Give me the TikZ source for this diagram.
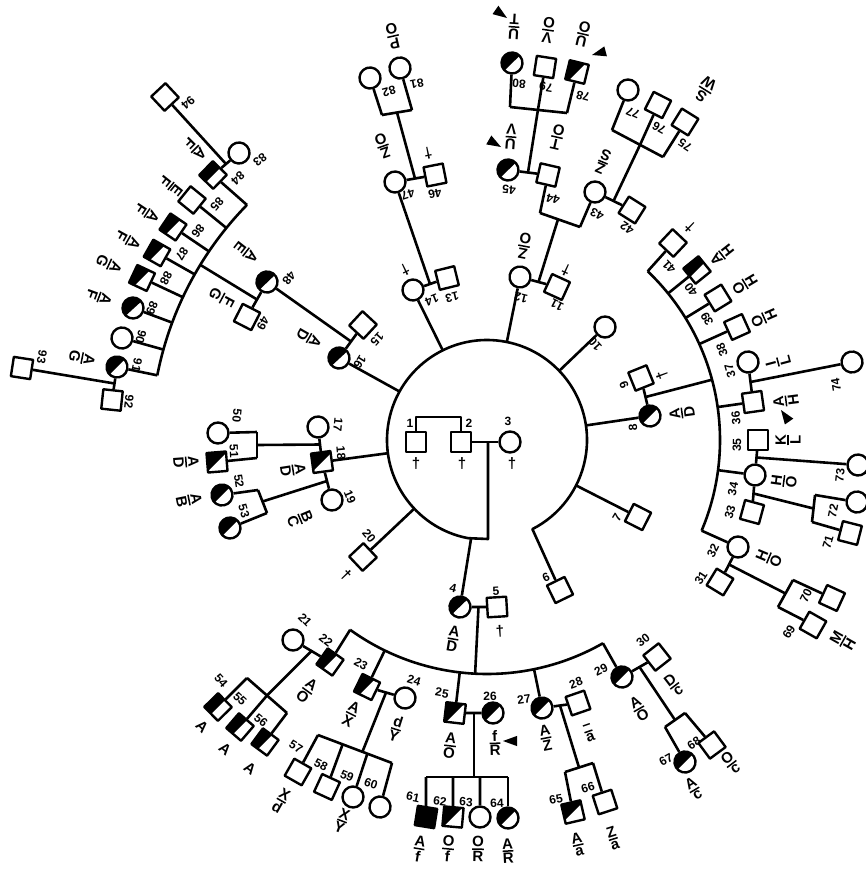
\documentclass[tikz,border=0pt]{standalone}
\usepackage{amsmath}
\usepackage{fontspec}
\setmainfont{Liberation Sans}
\usetikzlibrary{calc}
\newcommand\pfrac[2]{$\genfrac{}{}{1.5pt}{1}{\mbox{#1}}{\mbox{#2}}$}
\newcommand\rotang[2]{atan2(440-(#2),(#1)-487)+90}
\newcommand\pSq[4]{\node[sqr,#4,rotate={\rotang{#2}{#3}}] (#1) at (#2,#3) {};}
\newcommand\pCi[4]{\node[cir,#4,rotate={\rotang{#2}{#3}}] (#1) at (#2,#3) {};}
\newcommand\pNum[3]{\node[num,rotate={\rotang{#2}{#3}}] (t#1) at (#2,#3) {#1};}
\newcommand\pFr[5]{\node[frc,rotate={\rotang{#2}{#3}}] (f#1) at (#2,#3) {\pfrac{#4}{#5}};}
\newcommand\pTxt[4]{\node[frc,rotate={\rotang{#2}{#3}}] (f#1) at (#2,#3) {#4};}
\newcommand\pDg[3]{\node[dg,rotate={\rotang{#2}{#3}}] (d#1) at (#2,#3) {\textdagger};}
\begin{document}
\begin{tikzpicture}[x=1pt,y=-1pt,line width=2.6pt,line join=round,
  sqr/.style={draw,rectangle,minimum size=19.5pt,inner sep=0pt,line width=2.4pt},
  cir/.style={draw,circle,minimum size=21pt,inner sep=0pt,line width=2.4pt},
  aff/.style={path picture={\fill[black] (path picture bounding box.north west) -- (path picture bounding box.north east) -- (path picture bounding box.south west) -- cycle;}},
  full/.style={fill=black},
  num/.style={inner sep=0pt,font=\fontsize{12}{12}\selectfont\bfseries},
  frc/.style={inner sep=0pt,font=\fontsize{15}{15}\selectfont\bfseries},
  dg/.style={inner sep=0pt,font=\fontsize{15}{15}\selectfont\bfseries}]
\useasboundingbox (0,0) rectangle (865,873);
\coordinate (C) at (487,440);

% ---------- centre ----------
\node[sqr] (n1) at (416,442) {};
\node[sqr] (n2) at (461,442) {};
\node[cir] (n3) at (510,442) {};
\node[num] (t1) at (410,423) {1};
\node[num] (t2) at (469,423) {2};
\node[num] (t3) at (508,421) {3};
\node[dg] (d1) at (416,464) {\textdagger};
\node[dg] (d2) at (462,464) {\textdagger};
\node[dg] (d3) at (512,464) {\textdagger};
\draw (n1.north) -- ++(0,-14) -| (n2.north);
\draw (n2) -- (n3);
\coordinate (m23) at (488,442);

% ---------- generation II ----------
\pCi{n4}{460}{607}{aff}
\pSq{n5}{497}{607}{}
\pSq{n6}{560}{590}{}
\pSq{n7}{638}{517}{}
\pCi{n8}{650}{416}{aff}
\pSq{n9}{641}{378}{}
\pCi{n10}{605}{327}{}
\pSq{n11}{557}{287}{}
\pCi{n12}{520}{277}{}
\pSq{n13}{447}{278}{}
\pCi{n14}{413}{290}{}
\pSq{n15}{363}{325}{}
\pCi{n16}{339}{358}{aff}
\pCi{n17}{318}{427}{}
\pSq{n18}{322}{462}{aff}
\pCi{n19}{332}{500}{}
\pSq{n20}{363}{557}{}

\draw (m23) -- (488,539) -- ($(C)+(101:100)$) arc[start angle=101,end angle=423,radius=100] -- (n6);
\foreach \k in {4,7,8,10,12,14,16,18,20} \draw ($(C)!100pt!(n\k)$) -- (n\k);
\draw (n4) -- (n5); \draw (n8) -- (n9); \draw (n12) -- (n11); \draw (n14) -- (n13);
\draw (n16) -- (n15); \draw (n17) -- (n18); \draw (n18) -- (n19);

% ---------- generation III ----------
\pCi{n21}{293}{640}{}
\pSq{n22}{330}{662}{aff}
\pSq{n23}{367}{687}{aff}
\pCi{n24}{405}{698}{}
\pSq{n25}{455}{713}{aff}
\pCi{n26}{493}{713}{aff}
\pCi{n27}{542}{708}{aff}
\pSq{n28}{578}{703}{}
\pCi{n29}{622}{677}{aff}
\pSq{n30}{657}{657}{}
\pSq{n41}{673}{243}{}
\pSq{n40}{697}{270}{aff}
\pSq{n39}{718}{298}{}
\pSq{n38}{737}{327}{}
\pCi{n37}{748}{362}{}
\pSq{n36}{753}{402}{}
\pSq{n35}{758}{440}{}
\pCi{n34}{755}{475}{}
\pSq{n33}{752}{512}{}
\pCi{n32}{738}{547}{}
\pSq{n31}{720}{582}{}
\pCi{n48}{267}{282}{aff}
\pSq{n49}{247}{317}{}
\pCi{n47}{395}{182}{}
\pSq{n46}{435}{175}{}
\pCi{n43}{595}{192}{}
\pSq{n42}{632}{210}{}
\pSq{n44}{548}{175}{}
\pCi{n45}{508}{170}{aff}
\pCi{n50}{218}{433}{}
\pSq{n51}{217}{462}{aff}
\pCi{n52}{222}{495}{aff}
\pCi{n53}{230}{528}{aff}

% ---------- generation IV ----------
\pSq{n54}{218}{707}{aff}
\pSq{n55}{240}{727}{aff}
\pSq{n56}{265}{742}{aff}
\pSq{n57}{298}{772}{}
\pSq{n58}{327}{787}{}
\pCi{n59}{353}{797}{}
\pCi{n60}{380}{807}{}
\pSq{n61}{426}{817}{full}
\pSq{n62}{453}{817}{aff}
\pCi{n63}{480}{817}{}
\pCi{n64}{508}{818}{aff}
\pSq{n65}{573}{812}{aff}
\pSq{n66}{605}{802}{}
\pCi{n67}{685}{762}{aff}
\pSq{n68}{712}{745}{}
\pSq{n69}{813}{625}{}
\pSq{n70}{832}{598}{}
\pSq{n71}{850}{533}{}
\pCi{n72}{857}{502}{}
\pCi{n73}{858}{465}{}
\pCi{n74}{852}{362}{}
\pSq{n75}{685}{122}{}
\pSq{n76}{658}{105}{}
\pCi{n77}{628}{90}{}
\pSq{n78}{577}{72}{aff}
\pSq{n79}{545}{67}{}
\pCi{n80}{512}{63}{aff}
\pCi{n81}{400}{68}{}
\pCi{n82}{370}{78}{}
\pCi{n83}{239}{153}{}
\pSq{n84}{213}{175}{aff}
\pSq{n85}{192}{200}{}
\pSq{n86}{173}{227}{aff}
\pSq{n87}{157}{253}{aff}
\pSq{n88}{142}{278}{aff}
\pCi{n89}{133}{308}{aff}
\pCi{n90}{122}{338}{}
\pCi{n91}{117}{367}{aff}
\pSq{n92}{112}{400}{}
\pSq{n93}{22}{368}{}
\pSq{n94}{165}{97}{}

% ---------- bottom arc (children of 4 and 5) ----------
\draw ($(C)+(60.3:234)$) coordinate (bR) arc[start angle=60.3,end angle=125.8,radius=234] coordinate (bL);
\coordinate (m45) at ($(n4)!.5!(n5)$);
\draw (m45) -- ($(C)!234pt!(m45)$);
\draw (bL) -- (n22); \draw (bR) -- (n29);
\foreach \k in {23,25,27} \draw ($(C)!234pt!(n\k)$) -- (n\k);
\draw (n21) -- (n22); \draw (n23) -- (n24); \draw (n25) -- (n26); \draw (n27) -- (n28); \draw (n29) -- (n30);

\coordinate (k54) at (247,678); \coordinate (k56) at (287,713); \coordinate (k55) at ($(k54)!.5!(k56)$);
\draw ($(n21)!.5!(n22)$) -- (k55); \draw (k54) -- (k56);
\draw (k54) -- (n54); \draw (k55) -- (n55); \draw (k56) -- (n56);

\coordinate (k57) at (318,735); \coordinate (k60) at (392,763);
\coordinate (k58) at ($(k57)!.333!(k60)$); \coordinate (k59) at ($(k57)!.667!(k60)$);
\draw ($(n23)!.5!(n24)$) -- ($(k57)!.6!(k60)$); \draw (k57) -- (k60);
\draw (k57) -- (n57); \draw (k58) -- (n58); \draw (k59) -- (n59); \draw (k60) -- (n60);

\coordinate (m2526) at ($(n25)!.5!(n26)$);
\draw (m2526) -- (m2526 |- 0,777);
\draw (426,777) -- (508,777);
\foreach \k/\xx in {61/426,62/453,63/480,64/508} \draw (\xx,777) -- (n\k);

\coordinate (k65) at (565,772); \coordinate (k66) at (593,763);
\draw ($(n27)!.5!(n28)$) -- ($(k65)!.5!(k66)$); \draw (k65) -- (k66);
\draw (k65) -- (n65); \draw (k66) -- (n66);

\coordinate (k67) at (665,727); \coordinate (k68) at (685,713);
\draw ($(n29)!.5!(n30)$) -- ($(k67)!.5!(k68)$); \draw (k67) -- (k68);
\draw (k67) -- (n67); \draw (k68) -- (n68);

% ---------- right arc (children of 8 and 9) ----------
\draw ($(C)+(-46.4:233)$) coordinate (rT) arc[start angle=-46.4,end angle=22.9,radius=233] coordinate (rB);
\draw ($(n8)!.5!(n9)$) -- ($(C)+(-15:233)$);
\draw (rT) -- (n41); \draw (rB) -- (n32);
\foreach \k in {40,39,38,36,34} \draw ($(C)!233pt!(n\k)$) -- (n\k);
\draw (n37) -- (n36); \draw (n35) -- (n34); \draw (n34) -- (n33); \draw (n32) -- (n31);
\draw ($(n37)!.5!(n36)$) -- (n74);
\draw ($(n35)!.5!(n34)$) -- (n73);
\coordinate (k72) at (815,495); \coordinate (k71) at (812,522);
\draw ($(n34)!.5!(n33)$) -- ($(k72)!.5!(k71)$); \draw (k72) -- (k71);
\draw (k72) -- (n72); \draw (k71) -- (n71);
\coordinate (k70) at (793,580); \coordinate (k69) at (778,607);
\draw ($(n32)!.5!(n31)$) -- ($(k70)!.5!(k69)$); \draw (k70) -- (k69);
\draw (k70) -- (n70); \draw (k69) -- (n69);

% ---------- left arc (children of 48 and 49) ----------
\draw ($(C)+(191.1:336)$) coordinate (lB) arc[start angle=191.1,end angle=224.4,radius=336] coordinate (lT);
\draw ($(n16)!.5!(n15)$) -- (n48);
\draw (n48) -- (n49);
\coordinate (m4849) at ($(n48)!.5!(n49)$);
\draw (m4849) -- ($(C)!336pt!(m4849)$);
\draw (lT) -- (n84); \draw (lB) -- (n91);
\foreach \k in {85,86,87,88,89,90} \draw ($(C)!336pt!(n\k)$) -- (n\k);
\draw (n83) -- (n84); \draw ($(n83)!.5!(n84)$) -- (n94);
\draw (n91) -- (n92); \draw (n93) -- ($(n91)!.5!(n92)$);

% ---------- top ----------
\draw ($(n14)!.5!(n13)$) -- (n47);
\draw (n47) -- (n46);
\coordinate (k82) at (382,115); \coordinate (k81) at (412,110);
\draw ($(n47)!.5!(n46)$) -- ($(k82)!.5!(k81)$); \draw (k82) -- (k81);
\draw (k82) -- (n82); \draw (k81) -- (n81);

\coordinate (k44) at (540,213); \coordinate (k43) at (580,227);
\draw ($(n12)!.5!(n11)$) -- ($(k44)!.45!(k43)$); \draw (k44) -- (k43);
\draw (k44) -- (n44); \draw (k43) -- (n43);
\draw (n45) -- (n44);
\coordinate (k80) at (510,107); \coordinate (k78) at (567,113); \coordinate (k79) at ($(k80)!.49!(k78)$);
\draw ($(n45)!.5!(n44)$) -- (k79); \draw (k80) -- (k78);
\draw (k80) -- (n80); \draw (k79) -- (n79); \draw (k78) -- (n78);
\draw (n43) -- (n42);
\coordinate (k77) at (612,130); \coordinate (k75) at (663,157); \coordinate (k76) at ($(k77)!.55!(k75)$);
\draw ($(n43)!.5!(n42)$) -- (k76); \draw (k77) -- (k75);
\draw (k77) -- (n77); \draw (k76) -- (n76); \draw (k75) -- (n75);

% ---------- left middle (children of 17/18 and 18/19) ----------
\coordinate (k50) at (257,432); \coordinate (k51) at (257,458);
\draw ($(n17)!.5!(n18)$) -- ($(k50)!.5!(k51)$); \draw (k50) -- (k51);
\draw (k50) -- (n50); \draw (k51) -- (n51);
\coordinate (k52) at (258,490); \coordinate (k53) at (267,513);
\draw ($(n18)!.5!(n19)$) -- ($(k52)!.5!(k53)$); \draw (k52) -- (k53);
\draw (k52) -- (n52); \draw (k53) -- (n53);

% ---------- numbers ----------
\pNum{4}{453}{588} \pNum{5}{496}{591} \pNum{6}{546}{577} \pNum{7}{617}{518}
\pNum{8}{633}{428} \pNum{9}{624}{385} \pNum{10}{595}{344} \pNum{11}{557}{305}
\pNum{12}{521}{298} \pNum{13}{452}{297} \pNum{14}{432}{300} \pNum{15}{377}{339}
\pNum{16}{360}{362} \pNum{17}{338}{425} \pNum{18}{341}{453} \pNum{19}{350}{497}
\pNum{20}{369}{536}
\pNum{21}{305}{620} \pNum{22}{326}{640} \pNum{23}{361}{664} \pNum{24}{414}{680}
\pNum{25}{442}{693} \pNum{26}{490}{696} \pNum{27}{524}{699} \pNum{28}{576}{683}
\pNum{29}{601}{670} \pNum{30}{643}{640} \pNum{31}{701}{578} \pNum{32}{713}{551}
\pNum{33}{730}{512} \pNum{34}{733}{489} \pNum{35}{737}{445} \pNum{36}{736}{418}
\pNum{37}{730}{371} \pNum{38}{722}{350} \pNum{39}{707}{319} \pNum{40}{691}{290}
\pNum{41}{669}{267} \pNum{42}{627}{228} \pNum{43}{597}{214} \pNum{44}{553}{199}
\pNum{45}{509}{190} \pNum{46}{435}{194} \pNum{47}{408}{194} \pNum{48}{289}{278}
\pNum{49}{263}{323} \pNum{50}{237}{416} \pNum{51}{234}{451} \pNum{52}{239}{481}
\pNum{53}{244}{511} \pNum{54}{221}{681} \pNum{55}{240}{699} \pNum{56}{261}{720}
\pNum{57}{296}{747} \pNum{58}{321}{765} \pNum{59}{347}{776} \pNum{60}{371}{784}
\pNum{61}{413}{797} \pNum{62}{440}{801} \pNum{63}{466}{802} \pNum{64}{497}{803}
\pNum{65}{556}{799} \pNum{66}{588}{788} \pNum{67}{666}{760} \pNum{68}{694}{743}
\pNum{69}{789}{632} \pNum{70}{806}{596} \pNum{71}{828}{542} \pNum{72}{833}{511}
\pNum{73}{840}{475} \pNum{74}{836}{385} \pNum{75}{685}{145} \pNum{76}{659}{128}
\pNum{77}{633}{113} \pNum{78}{583}{96} \pNum{79}{546}{87} \pNum{80}{519}{84}
\pNum{81}{417}{84} \pNum{82}{389}{91} \pNum{83}{260}{160} \pNum{84}{238}{178}
\pNum{85}{217}{204} \pNum{86}{198}{231} \pNum{87}{182}{254} \pNum{88}{166}{278}
\pNum{89}{152}{308} \pNum{90}{141}{337} \pNum{91}{137}{365} \pNum{92}{129}{402}
\pNum{93}{42}{357} \pNum{94}{188}{103}

% ---------- daggers ----------
\pDg{5}{500}{631} \pDg{9}{662}{375} \pDg{11}{566}{270} \pDg{14}{405}{270}
\pDg{20}{346}{575} \pDg{41}{690}{227} \pDg{46}{428}{153}

% ---------- genotype labels ----------
\pFr{4}{453}{639}{A}{D} \pFr{8}{682}{413}{A}{D} \pFr{12}{524}{246}{Z}{O}
\pFr{16}{309}{338}{A}{D} \pFr{18}{293}{470}{A}{D} \pFr{19}{300}{519}{B}{C}
\pFr{22}{307}{691}{A}{O} \pFr{23}{351}{714}{A}{X} \pFr{24}{396}{729}{d}{Y}
\pFr{25}{450}{746}{A}{O} \pFr{26}{495}{743}{f}{R} \pFr{27}{546}{738}{A}{Z}
\pFr{28}{589}{733}{--}{a} \pFr{29}{639}{709}{A}{O} \pFr{30}{674}{685}{D}{c}
\pFr{32}{769}{558}{H}{O} \pFr{34}{784}{481}{H}{O} \pFr{35}{788}{440}{K}{L}
\pFr{36}{786}{401}{A}{H} \pFr{37}{778}{362}{I}{L} \pFr{38}{764}{318}{O}{H}
\pFr{39}{745}{284}{O}{H} \pFr{40}{722}{255}{A}{H} \pFr{43}{603}{162}{Z}{S}
\pFr{44}{557}{137}{T}{O} \pFr{45}{511}{137}{U}{V} \pFr{47}{383}{146}{Z}{O}
\pFr{48}{246}{252}{A}{E} \pFr{49}{222}{298}{F}{G} \pFr{51}{186}{462}{A}{D}
\pFr{52}{189}{500}{A}{B} \pFr{57}{281}{801}{X}{d} \pFr{59}{342}{821}{X}{Y}
\pFr{61}{419}{849}{A}{f} \pFr{62}{448}{849}{O}{f} \pFr{63}{478}{849}{O}{R}
\pFr{64}{508}{851}{A}{R} \pFr{65}{578}{844}{A}{a} \pFr{66}{613}{838}{Z}{a}
\pFr{67}{694}{789}{A}{c} \pFr{68}{731}{763}{O}{c} \pFr{69}{843}{641}{M}{H}
\pFr{75}{705}{90}{S}{W} \pFr{78}{583}{34}{U}{O} \pFr{79}{548}{30}{V}{O}
\pFr{80}{514}{27}{U}{T} \pFr{81}{393}{36}{P}{O} \pFr{84}{195}{149}{A}{F}
\pFr{85}{171}{186}{E}{F} \pFr{86}{147}{213}{A}{F} \pFr{87}{128}{240}{A}{F}
\pFr{88}{109}{264}{A}{G} \pFr{89}{99}{297}{A}{F} \pFr{91}{82}{358}{A}{G}
\pTxt{54}{202}{727}{A} \pTxt{55}{225}{749}{A} \pTxt{56}{250}{768}{A}

% ---------- pointers ----------
\fill (503,741) -- ($(503,741)+(20:15)$) -- ($(503,741)+(-20:15)$) -- cycle;
\fill (781,410) -- ($(781,410)+(75:15)$) -- ($(781,410)+(35:15)$) -- cycle;
\fill (501,147) -- ($(501,147)+(230:15)$) -- ($(501,147)+(190:15)$) -- cycle;
\fill (507,18) -- ($(507,18)+(235:15)$) -- ($(507,18)+(195:15)$) -- cycle;
\fill (592,55) -- ($(592,55)+(5:15)$) -- ($(592,55)+(-35:15)$) -- cycle;
\end{tikzpicture}
\end{document}
